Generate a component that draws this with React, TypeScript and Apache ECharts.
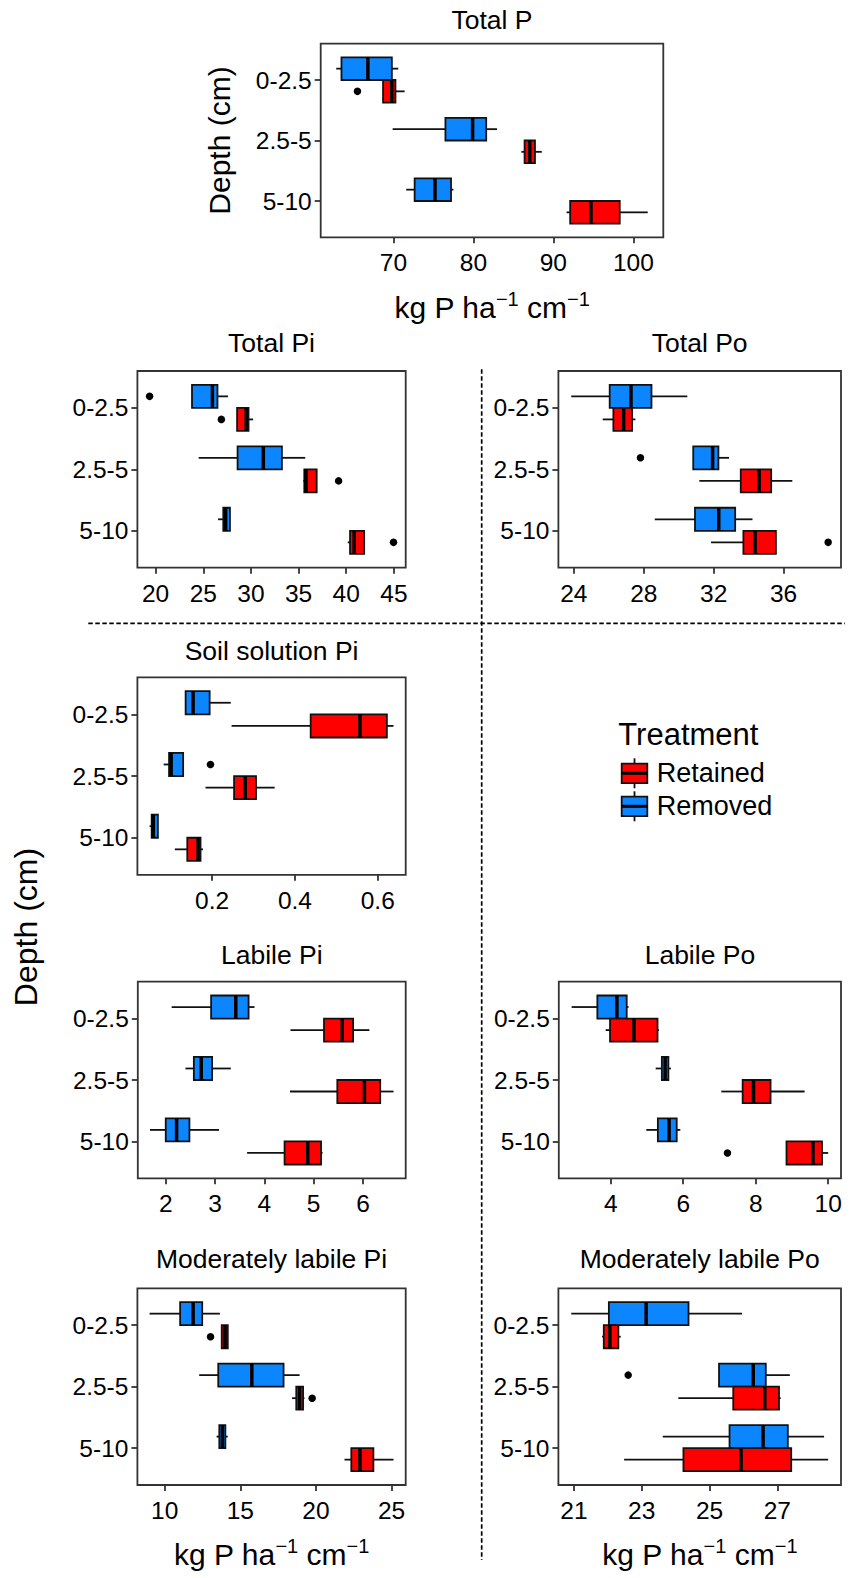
import React, { useEffect, useRef } from 'react';
import * as echarts from 'echarts';

// ---------- data ----------
const depths = ['0-2.5', '2.5-5', '5-10'];
const treatments = ['Retained', 'Removed'];

// each row: [lower whisker, Q1, median, Q3, upper whisker] for depths 0-2.5, 2.5-5, 5-10
const totalPRemoved = [[62.85, 63.5, 66.8, 69.8, 70.6], [69.9, 76.5, 79.9, 81.6, 82.95], [71.6, 72.65, 75.2, 77.2, 77.5]];
const totalPRetained = [[68.7, 68.7, 69.8, 70.25, 71.4], [86.0, 86.4, 87.05, 87.7, 88.55], [91.65, 92.1, 94.7, 98.3, 101.8]];
// outliers: [depth index, 0 = Removed / 1 = Retained, value]
const totalPOutliers = [[0, 1, 65.5]];
const totalPTicks = [70, 80, 90, 100];

const totalPiRemoved = [[23.82, 23.82, 25.96, 26.49, 27.6], [24.52, 28.6, 31.3, 33.25, 35.7], [26.55, 27.1, 27.35, 27.8, 27.8]];
const totalPiRetained = [[28.55, 28.55, 29.5, 29.75, 30.23], [35.5, 35.6, 35.78, 36.9, 36.9], [40.16, 40.4, 40.83, 41.88, 41.88]];
const totalPiOutliers = [[0, 0, 19.37], [0, 1, 26.9], [1, 1, 39.2], [2, 1, 44.96]];
const totalPiTicks = [20, 25, 30, 35, 40, 45];

const totalPoRemoved = [[23.85, 26.05, 27.27, 28.44, 30.49], [30.83, 30.83, 31.94, 32.27, 32.88], [28.63, 30.93, 32.29, 33.23, 34.22]];
const totalPoRetained = [[25.65, 26.26, 26.85, 27.33, 27.52], [31.18, 33.55, 34.6, 35.29, 36.5], [31.85, 33.7, 34.37, 35.56, 35.56]];
const totalPoOutliers = [[1, 0, 27.81], [2, 1, 38.55]];
const totalPoTicks = [24, 28, 32, 36];

const solPiRemoved = [[0.136, 0.136, 0.154, 0.194, 0.245], [0.083, 0.096, 0.101, 0.13, 0.13], [0.049, 0.054, 0.058, 0.069, 0.069]];
const solPiRetained = [[0.247, 0.438, 0.557, 0.622, 0.638], [0.184, 0.253, 0.28, 0.306, 0.351], [0.11, 0.14, 0.166, 0.172, 0.178]];
const solPiOutliers = [[1, 0, 0.196]];
const solPiTicks = [0.2, 0.4, 0.6];

const labPiRemoved = [[2.12, 2.92, 3.42, 3.68, 3.8], [2.4, 2.57, 2.72, 2.94, 3.32], [1.68, 2.0, 2.22, 2.48, 3.08]];
const labPiRetained = [[4.53, 5.21, 5.58, 5.8, 6.13], [4.52, 5.48, 6.03, 6.35, 6.62], [3.65, 4.41, 4.88, 5.15, 5.18]];
const labPiOutliers: number[][] = [];
const labPiTicks = [2, 3, 4, 5, 6];

const labPoRemoved = [[2.92, 3.63, 4.17, 4.44, 4.49], [5.24, 5.41, 5.5, 5.59, 5.66], [4.98, 5.3, 5.61, 5.82, 5.92]];
const labPoRetained = [[3.86, 3.98, 4.64, 5.29, 5.33], [7.05, 7.64, 7.94, 8.41, 9.35], [8.85, 8.85, 9.58, 9.83, 10.0]];
const labPoOutliers = [[2, 1, 7.22]];
const labPoTicks = [4, 6, 8, 10];

const modPiRemoved = [[9.0, 11.02, 11.88, 12.48, 13.65], [12.28, 13.54, 15.76, 17.86, 18.92], [13.43, 13.61, 13.81, 14.01, 14.17]];
const modPiRetained = [[13.77, 13.77, 13.99, 14.17, 14.17], [18.42, 18.7, 18.92, 19.15, 19.24], [21.89, 22.34, 22.91, 23.8, 25.13]];
const modPiOutliers = [[0, 1, 13.03], [1, 1, 19.75]];
const modPiTicks = [10, 15, 20, 25];

const modPoRemoved = [[20.92, 22.03, 23.13, 24.38, 25.96], [25.28, 25.28, 26.29, 26.66, 27.37], [23.62, 25.59, 26.58, 27.31, 28.38]];
const modPoRetained = [[21.83, 21.88, 22.06, 22.31, 22.38], [24.08, 25.7, 26.63, 27.05, 27.1], [22.48, 24.23, 25.93, 27.41, 28.5]];
const modPoOutliers = [[1, 0, 22.6]];
const modPoTicks = [21, 23, 25, 27];

// ---------- layout / style ----------
const FONT = '"Liberation Sans", Arial, Helvetica, sans-serif';
const RED = '#FF0000';
const BLUE = '#0B86FF';
const BOX_W = 0.375;
const DODGE = 0.1875;
const LW = 1.8;

type Panel = {
  title: string;
  removed: number[][];
  retained: number[][];
  outliers: number[][];
  ticks: number[];
  decimals: number;
  left: number; top: number; width: number; height: number;
  titleY: number;
};

const panels: Panel[] = [
  { title: 'Total P', removed: totalPRemoved, retained: totalPRetained, outliers: totalPOutliers, ticks: totalPTicks, decimals: 0, left: 320.7, top: 43.7, width: 342.6, height: 193.6, titleY: 20.3 },
  { title: 'Total Pi', removed: totalPiRemoved, retained: totalPiRetained, outliers: totalPiOutliers, ticks: totalPiTicks, decimals: 0, left: 137.4, top: 371, width: 268.3, height: 196.7, titleY: 343 },
  { title: 'Total Po', removed: totalPoRemoved, retained: totalPoRetained, outliers: totalPoOutliers, ticks: totalPoTicks, decimals: 0, left: 558.4, top: 371, width: 282.6, height: 196.7, titleY: 343 },
  { title: 'Soil solution Pi', removed: solPiRemoved, retained: solPiRetained, outliers: solPiOutliers, ticks: solPiTicks, decimals: 1, left: 137.4, top: 677.3, width: 268.3, height: 197.5, titleY: 650.5 },
  { title: 'Labile Pi', removed: labPiRemoved, retained: labPiRetained, outliers: labPiOutliers, ticks: labPiTicks, decimals: 0, left: 137.8, top: 981.7, width: 267.9, height: 196.6, titleY: 954.5 },
  { title: 'Labile Po', removed: labPoRemoved, retained: labPoRetained, outliers: labPoOutliers, ticks: labPoTicks, decimals: 0, left: 558.8, top: 981.7, width: 282.2, height: 196.6, titleY: 954.5 },
  { title: 'Moderately labile Pi', removed: modPiRemoved, retained: modPiRetained, outliers: modPiOutliers, ticks: modPiTicks, decimals: 0, left: 137.4, top: 1288.3, width: 268.3, height: 196.7, titleY: 1258.8 },
  { title: 'Moderately labile Po', removed: modPoRemoved, retained: modPoRetained, outliers: modPoOutliers, ticks: modPoTicks, decimals: 0, left: 558.4, top: 1288.3, width: 282.6, height: 196.7, titleY: 1258.8 },
];

function extentOf(p: Panel): [number, number] {
  const vals: number[] = [];
  p.removed.forEach((r) => vals.push(...r));
  p.retained.forEach((r) => vals.push(...r));
  p.outliers.forEach((o) => vals.push(o[2]));
  const lo = Math.min(...vals);
  const hi = Math.max(...vals);
  const pad = (hi - lo) * 0.05;
  return [lo - pad, hi + pad];
}

function boxSeries(data: number[][], idx: number, off: number, color: string, name: string) {
  return {
    type: 'custom',
    name,
    xAxisIndex: idx,
    yAxisIndex: idx,
    data: data.map((s, d) => [d, ...s]),
    encode: { x: [1, 2, 3, 4, 5], y: 0 },
    clip: false,
    renderItem: (_params: any, api: any) => {
      const yc = api.value(0) + off;
      const pMin = api.coord([api.value(1), yc]);
      const pQ1 = api.coord([api.value(2), yc]);
      const pMed = api.coord([api.value(3), yc]);
      const pQ3 = api.coord([api.value(4), yc]);
      const pMax = api.coord([api.value(5), yc]);
      const h = Math.abs(api.size([0, BOX_W])[1]);
      const y = pQ1[1];
      const top = y - h / 2;
      return {
        type: 'group',
        children: [
          { type: 'line', shape: { x1: pMin[0], y1: y, x2: pQ1[0], y2: y }, style: { stroke: '#111', lineWidth: LW } },
          { type: 'line', shape: { x1: pQ3[0], y1: y, x2: pMax[0], y2: y }, style: { stroke: '#111', lineWidth: LW } },
          { type: 'rect', shape: { x: pQ1[0], y: top, width: pQ3[0] - pQ1[0], height: h }, style: { fill: color, stroke: '#111', lineWidth: LW } },
          { type: 'line', shape: { x1: pMed[0], y1: top, x2: pMed[0], y2: top + h }, style: { stroke: '#000', lineWidth: 3.5 } },
        ],
      };
    },
  };
}

function buildOption() {
  const grid: any[] = [];
  const xAxis: any[] = [];
  const yAxis: any[] = [];
  const series: any[] = [];
  const graphic: any[] = [];

  panels.forEach((p, i) => {
    const [mn, mx] = extentOf(p);
    grid.push({
      left: p.left, top: p.top, width: p.width, height: p.height,
      show: true, borderColor: '#333', borderWidth: LW, backgroundColor: 'transparent',
      containLabel: false, outerBoundsMode: 'none',
    });
    xAxis.push({
      type: 'value', gridIndex: i, min: mn, max: mx, position: 'bottom',
      axisLine: { show: false, onZero: false }, splitLine: { show: false },
      axisTick: { show: true, customValues: p.ticks, length: 6, lineStyle: { color: '#333', width: LW } },
      axisLabel: {
        customValues: p.ticks, margin: 13, fontSize: 24.5, color: '#000', fontFamily: FONT,
        formatter: (v: number) => v.toFixed(p.decimals),
      },
    });
    yAxis.push({
      type: 'value', gridIndex: i, min: -0.6, max: 2.6, inverse: true, position: 'left',
      axisLine: { show: false, onZero: false }, splitLine: { show: false },
      axisTick: { show: true, customValues: [0, 1, 2], length: 6, lineStyle: { color: '#333', width: LW } },
      axisLabel: {
        customValues: [0, 1, 2], margin: 9, fontSize: 24.5, color: '#000', fontFamily: FONT,
        formatter: (v: number) => depths[Math.round(v)],
      },
    });
    series.push(boxSeries(p.removed, i, -DODGE, BLUE, 'Removed'));
    series.push(boxSeries(p.retained, i, DODGE, RED, 'Retained'));
    series.push({
      type: 'scatter', name: 'Outliers', xAxisIndex: i, yAxisIndex: i,
      data: p.outliers.map((o) => [o[2], o[0] + (o[1] === 0 ? -DODGE : DODGE)]),
      symbol: 'circle', symbolSize: 7.5, itemStyle: { color: '#000', opacity: 1 }, z: 5,
    });
    graphic.push({
      type: 'text', x: p.left + p.width / 2, y: p.titleY,
      style: { text: p.title, fontSize: 26.5, fontFamily: FONT, fill: '#000', align: 'center', verticalAlign: 'middle' },
    });
  });

  const unitText = (x: number, y: number) => ({
    type: 'text', x, y,
    style: {
      text: 'kg P ha{s|−1} cm{s|−1}', fontSize: 30, lineHeight: 36, fontFamily: FONT, fill: '#000',
      align: 'center', verticalAlign: 'middle',
      rich: { s: { fontSize: 20, lineHeight: 20, verticalAlign: 'top', fontFamily: FONT, fill: '#000' } },
    },
  });
  graphic.push(unitText(492, 307));
  graphic.push(unitText(271.5, 1554));
  graphic.push(unitText(699.7, 1554));

  graphic.push({
    type: 'text', x: 219, y: 140.5, rotation: Math.PI / 2,
    style: { text: 'Depth (cm)', fontSize: 30, fontFamily: FONT, fill: '#000', align: 'center', verticalAlign: 'middle' },
  });
  graphic.push({
    type: 'text', x: 25.5, y: 927, rotation: Math.PI / 2,
    style: { text: 'Depth (cm)', fontSize: 32, fontFamily: FONT, fill: '#000', align: 'center', verticalAlign: 'middle' },
  });

  // dashed separators
  graphic.push({ type: 'line', shape: { x1: 481.7, y1: 369.3, x2: 481.7, y2: 1560 }, style: { stroke: '#000', lineWidth: 1.7, lineDash: [4.5, 2.5] } });
  graphic.push({ type: 'line', shape: { x1: 88.3, y1: 623.3, x2: 845, y2: 623.3 }, style: { stroke: '#000', lineWidth: 1.7, lineDash: [4.5, 2.5] } });

  // legend
  graphic.push({
    type: 'text', x: 618.3, y: 734.7,
    style: { text: 'Treatment', fontSize: 31, fontFamily: FONT, fill: '#000', align: 'left', verticalAlign: 'middle' },
  });
  const keyColors = [RED, BLUE];
  const keyCenters = [773.3, 806.3];
  treatments.forEach((t, k) => {
    const cy = keyCenters[k];
    const x0 = 621.7;
    const w = 25.6;
    const h = 19.5;
    graphic.push({ type: 'line', shape: { x1: x0 + w / 2, y1: cy - 15, x2: x0 + w / 2, y2: cy + 15 }, style: { stroke: '#111', lineWidth: LW } });
    graphic.push({ type: 'rect', shape: { x: x0, y: cy - h / 2, width: w, height: h }, style: { fill: keyColors[k], stroke: '#111', lineWidth: LW } });
    graphic.push({ type: 'line', shape: { x1: x0, y1: cy, x2: x0 + w, y2: cy }, style: { stroke: '#000', lineWidth: 3 } });
    graphic.push({
      type: 'text', x: 656.7, y: cy,
      style: { text: t, fontSize: 27, fontFamily: FONT, fill: '#000', align: 'left', verticalAlign: 'middle' },
    });
  });

  return {
    animation: false,
    backgroundColor: '#ffffff',
    grid, xAxis, yAxis, series, graphic,
  };
}

export default function App() {
  const ref = useRef<HTMLDivElement>(null);
  useEffect(() => {
    if (!ref.current) return;
    const chart = echarts.init(ref.current, undefined, { renderer: 'svg' });
    chart.setOption(buildOption() as any);
    return () => chart.dispose();
  }, []);
  return (
    <div
      ref={ref}
      style={{ position: 'absolute', left: 0, top: 0, width: 855, height: 1578, background: '#fff' }}
    />
  );
}
